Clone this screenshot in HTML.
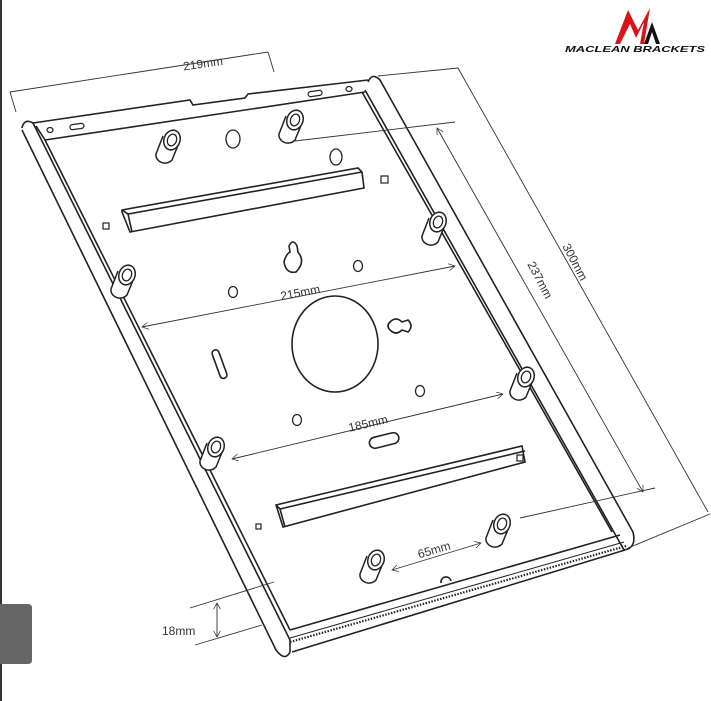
<!DOCTYPE html>
<html><head><style>
html,body{margin:0;padding:0;background:#fff;width:711px;height:701px;overflow:hidden}
svg{display:block}
text{font-family:"Liberation Sans",sans-serif;fill:#333}
</style></head><body>
<svg width="711" height="701" viewBox="0 0 711 701" xmlns="http://www.w3.org/2000/svg">
<defs>
<marker id="a" viewBox="0 0 10 10" refX="9" refY="5" markerWidth="8" markerHeight="8" orient="auto-start-reverse"><path d="M0,0 L9,5 L0,10" fill="none" stroke="#333" stroke-width="1"/></marker>
<g id="so"><path d="M-9,-4 L-16,14 A9,8 0 0 0 0,20 L7,3" fill="#fff" stroke="#222" stroke-width="1.5"/><ellipse cx="0" cy="0" rx="8" ry="10" transform="rotate(20)" fill="#fff" stroke="#222" stroke-width="1.5"/><ellipse cx="0" cy="0" rx="4.5" ry="6" transform="rotate(20)" fill="none" stroke="#222" stroke-width="1.3"/></g>
</defs>
<rect x="0" y="0" width="2" height="701" fill="#333"/>
<path d="M0,604 H28 Q32,604 32,608 V660 Q32,664 28,664 H0Z" fill="#666"/>
<g fill="none" stroke="#222" stroke-width="1.6">
<!-- left rail -->
<path d="M22,128 Q24,118 33,123 L290,640 L290,652 Q285,662 276,650 L22,130"/>
<path d="M36,126 L45,140 L290,630"/>
<!-- right rail -->
<path d="M368,82 Q372,72 380,80 L633,532 Q637,548 624,550 L365,90"/>
<path d="M362,92 L612,532"/>
<!-- top edge -->
<path d="M33,123 L190,100 L193,105 L245,98 L248,94 L368,80"/>
<path d="M45,140 L365,92"/>
<!-- bottom edge -->
<path d="M290,630 L620,535"/>
<path d="M290,638 L624,542" stroke-width="1"/>
<path d="M290,642 L626,546" stroke-width="2.2" stroke-dasharray="1.5 1.5"/>
<path d="M292,652 L625,550"/>
<path d="M441,583 a5,5 0 0 1 10,-2" />
<!-- top strip slots -->
<ellipse cx="50" cy="130" rx="3" ry="2.5" stroke-width="1.2"/>
<rect x="70" y="124" width="14" height="5" rx="2.5" transform="rotate(-8 77 127)" stroke-width="1.2"/>
<rect x="308" y="91" width="14" height="5" rx="2.5" transform="rotate(-8 315 93)" stroke-width="1.2"/>
<ellipse cx="349" cy="89" rx="3" ry="2.5" stroke-width="1.2"/>
<!-- holes -->
<ellipse cx="233" cy="139" rx="7" ry="9" stroke-width="1.3"/>
<ellipse cx="336" cy="157" rx="6" ry="8" stroke-width="1.3"/>
<ellipse cx="358" cy="266" rx="4.5" ry="5.5" stroke-width="1.3"/>
<ellipse cx="233" cy="292" rx="4.5" ry="5.5" stroke-width="1.3"/>
<ellipse cx="297" cy="420" rx="4.5" ry="5.5" stroke-width="1.3"/>
<ellipse cx="420" cy="391" rx="4.5" ry="5.5" stroke-width="1.3"/>
<rect x="381" y="176" width="7" height="7" stroke-width="1.2"/>
<rect x="103" y="223" width="6" height="6" stroke-width="1.2"/>
<rect x="517" y="455" width="6" height="6" stroke-width="1.2"/>
<rect x="256" y="524" width="5" height="5" stroke-width="1.2"/>
<!-- bars -->
<path d="M122,210 L358,168 L362,172 L364,188 L130,232 L122,212 Z M122,210 L128,214 L362,172 M128,214 L132,232"/>
<path d="M276,505 L522,446 L525,462 L283,527 Z M276,505 L280,509 L525,451 M280,509 L285,527"/>
<!-- keyholes -->
<path d="M289,246 Q293,238 297,246 L298,252 Q306,262 296,272 Q286,274 284,262 Q286,254 290,252 Z"/>
<path d="M390,322 Q396,316 402,322 L408,320 Q414,326 408,332 L402,330 Q396,336 390,330 Q386,326 390,322 Z"/>
<!-- big circle -->
<ellipse cx="335" cy="344" rx="43" ry="48"/>
<rect x="216" y="349" width="7" height="30" rx="3.5" transform="rotate(-20 220 364)"/>
<rect x="369" y="435" width="30" height="11" rx="5.5" transform="rotate(-14 384 440)"/>
</g>
<!-- standoffs -->
<use href="#so" x="172" y="140"/>
<use href="#so" x="295" y="120"/>
<use href="#so" x="438" y="222"/>
<use href="#so" x="127" y="275"/>
<use href="#so" x="526" y="377"/>
<use href="#so" x="216" y="447"/>
<use href="#so" x="376" y="560"/>
<use href="#so" x="502" y="524"/>
<!-- dimensions -->
<g fill="none" stroke="#333" stroke-width="0.9">
<path d="M10,92 L268,52 M10,92 L16,112 M268,52 L274,72"/>
<path d="M378,76 L458,68 L708,512 M628,548 L710,514"/>
<path d="M295,141 L455,122 M520,518 L655,488"/>
<path d="M437,128 L643,492" marker-start="url(#a)" marker-end="url(#a)"/>
<path d="M142,327 L455,266" marker-start="url(#a)" marker-end="url(#a)"/>
<path d="M232,459 L503,394" marker-start="url(#a)" marker-end="url(#a)"/>
<path d="M392,570 L481,543" marker-start="url(#a)" marker-end="url(#a)"/>
<path d="M190,608 L274,582 M195,645 L262,625"/>
<path d="M217,603 L217,637" marker-start="url(#a)" marker-end="url(#a)"/>
</g>
<g font-size="12">
<text x="183" y="67" transform="rotate(-8 208 63)">219mm</text>
<text x="280" y="296" transform="rotate(-11 303 291)">215mm</text>
<text x="348" y="427" transform="rotate(-13 370 423)">185mm</text>
<text x="417" y="553" transform="rotate(-16 437 548)">65mm</text>
<text x="162" y="635">18mm</text>
<text x="520" y="284" transform="rotate(62 540 280)">237mm</text>
<text x="555" y="266" transform="rotate(62 575 262)">300mm</text>
</g>
<!-- logo -->
<path d="M615,44 L628,10 L638,30 L650,8 L644,44 L640,44 L644,22 L636,38 L630,24 L620,44Z" fill="#d8141b"/>
<path d="M644,44 L652,22 L660,44 L656,44 L652,32 L648,44Z" fill="#111"/>
<text x="565" y="52" font-size="8" font-weight="bold" font-style="italic" style="fill:#111" textLength="140" lengthAdjust="spacingAndGlyphs">MACLEAN BRACKETS</text>
</svg>
</body></html>
